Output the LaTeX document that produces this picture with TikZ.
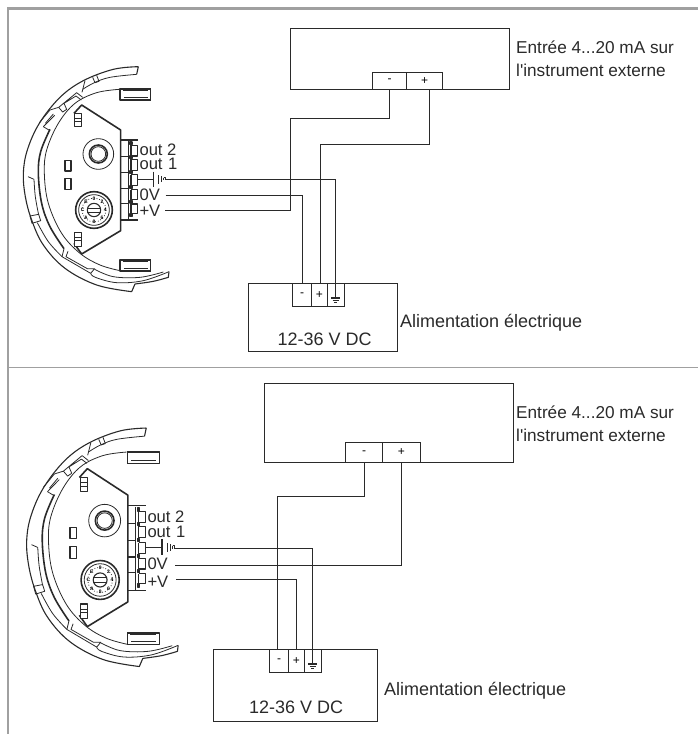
\documentclass[tikz,border=0pt]{standalone}
\usepackage{fontspec}
\setmainfont{Liberation Sans}[Ligatures=TeXOff]
\definecolor{ink}{HTML}{2A2A2A}
\definecolor{framec}{HTML}{A0A0A0}
\tikzset{
  x=1pt,y=-1pt,
  wire/.style={draw=ink,line width=1.2pt},
  box/.style={draw=ink,line width=1.2pt,fill=white,rectangle,inner sep=0pt,outer sep=0pt},
  term/.style={box,font=\fontsize{12}{13}\selectfont},
  lab/.style={font=\fontsize{17.2}{19}\selectfont,text=ink,inner sep=0pt,anchor=base west},
  widelab/.style={lab,font=\fontsize{18}{19}\selectfont},
  pinlab/.style={font=\fontsize{16.6}{18}\selectfont,text=ink,inner sep=0pt,anchor=base west},
  thin line/.style={draw=ink,line width=.8pt,line join=round},
  mid line/.style={draw=ink,line width=1.1pt,line join=round},
  thick line/.style={draw=ink,line width=1.6pt,line join=round},
  sensor/.pic={
    % shell
    \draw[mid line] (410,43) -- (415,20) plot[smooth,tension=.6] coordinates {(415,20) (340,28) (250,62) (180,112) (118,190) (82,270) (70,340) (76,410) (95,480) (130,555) (195,625) (290,675) (395,695)} -- (405,672) plot[smooth,tension=.6] coordinates {(405,672) (460,664) (505,652)} -- (507,635);
    \draw[thin line] plot[smooth,tension=.6] coordinates {(410,43) (330,52) (283,68) (248,88)};
    \draw[thin line] (255,62) -- (246,97);
    \draw[thin line] (278,52) -- (285,68) -- (297,64) -- (290,46);
    \draw[thin line] (248,112) -- (230,98) -- (176,142) -- (188,156) -- (200,148) -- (192,130) -- (228,108) -- (244,120);
    \draw[thin line] (118,188) -- (150,150) -- (176,142);
    \draw[thin line] (130,200) -- (164,166);
    \draw[thin line] (136,190) -- (160,162);
    \draw[thin line] (130,200) -- (150,212);
    \draw[thin line] (84,350) -- (102,358);
    \draw[thin line] plot[smooth,tension=.6] coordinates {(102,358) (106,410) (116,465)};
    \draw[thin line] (90,468) -- (116,463) -- (122,482) -- (96,490) -- cycle;
    \draw[thin line] plot[smooth,tension=.6] coordinates {(112,488) (145,545) (186,590)};
    \draw[thin line] (192,566) -- (186,590) -- (272,640) -- (284,626) -- (262,626) -- (198,590) -- (204,574);
    \draw[thin line] plot[smooth,tension=.6] coordinates {(272,640) (286,652) (350,668) (430,662) (507,635)};
    \draw[thin line] plot[smooth,tension=.6] coordinates {(284,628) (340,650) (420,652) (490,636)};
    % inner arcs
    \draw[thin line] plot[smooth,tension=.6] coordinates {(358,88) (290,98) (225,130) (175,190) (140,270) (133,340) (145,430) (185,520) (240,580) (300,615) (360,632)};
    \draw[thick line] plot[smooth,tension=.6] coordinates {(150,208) (122,275) (115,340) (125,430) (150,500) (192,566)};
    % tabs
    \foreach \yy in {87,600}{
      \draw[mid line,fill=white] (360,\yy) rectangle (452,\yy+33);
      \draw[thick line] (360,\yy) -- (452,\yy) (360,\yy+33) -- (452,\yy+33);
      \draw[thin line] (368,\yy+3) -- (444,\yy+3) (372,\yy+25) -- (444,\yy+25);
    }
    % board
    \draw[thick line] (222,160) -- (245,135) -- (362,210) -- (362,512) -- (245,582) -- (222,550);
    \foreach \yy/\hh in {160/40,518/42}{
      \draw[mid line,fill=white] (224,\yy) rectangle (245,\yy+\hh);
      \draw[thin line] (224,\yy+14) -- (245,\yy+14) (224,\yy+24) -- (245,\yy+24);
    }
    % lens
    \draw[thin line] (295,282) circle (46);
    \draw[thick line] (295,282) circle (27);
    \draw[thin line] (295,282) circle (22);
    \draw[mid line] (195,302) rectangle (213,333);
    \draw[mid line] (195,355) rectangle (213,388);
    % dial
    \draw[thick line] (282,450) circle (55);
    \draw[thin line] (282,450) circle (46);
    \draw[thin line,dotted] (282,450) circle (36);
    \draw[mid line] (282,450) circle (20);
    \draw[thin line] (262,444) -- (302,444) (262,456) -- (302,456);
    \foreach \aa/\tt in {90/0,45/2,0/4,-45/6,-90/8,-135/A,180/C,135/E}{
      \node[inner sep=0pt,font=\fontsize{5}{5}\selectfont\bfseries] (d\tt) at ({282+34*cos(\aa)},{450-34*sin(\aa)}) {\tt};
    }
    % terminal strip
    \draw[mid line] (362,240) -- (415,240);
    \draw[thick line] (362,480) -- (415,480);
    \draw[mid line] (385,243) -- (385,478);
    \draw[mid line] (362,290) -- (385,290) (362,338) -- (385,338) (362,385) -- (385,385) (362,430) -- (385,430);
    \foreach \yy in {250,292,337,382,425,466}{
      \draw[thick line,fill=ink] (390,\yy-4) rectangle (396,\yy+4);
    }
    \foreach \ya/\yb in {256/288,298/331,344/376,389/419,432/460}{
      \draw[mid line] (393,\ya) -- (413,\ya) -- (413,\yb) -- (393,\yb);
      \draw[mid line] (393,\ya) -- (393,\yb);
    }
    % earth symbol
    \draw[thick line] (413,358) -- (460,358);
    \draw[thick line] (460,335) -- (460,380);
    \draw[thick line] (476,345) -- (476,371);
    \draw[mid line] (484,349) -- (484,367);
    \draw[thin line] (491,353) -- (491,361) (491,353) -- (495,353) -- (495,361);
    % labels
    \node[pinlab] (out2) at (418,287) {out 2};
    \node[pinlab] (out1) at (418,329) {out\,\,1};
    \node[pinlab] (zero) at (418,421) {0V};
    \node[pinlab] (plus) at (418,470) {+V};
  }
}
\newcommand{\gnds}[2]{%
  \draw[wire] (#1,#2) -- (#1,#2+14);
  \draw[wire] (#1-4.5,#2+14.5) -- (#1+4.5,#2+14.5);
  \draw[wire,line width=.9pt] (#1-3,#2+16.5) -- (#1+3,#2+16.5);
  \draw[wire,line width=.9pt] (#1-1.3,#2+18.5) -- (#1+1.3,#2+18.5);
}
\begin{document}
\begin{tikzpicture}
\useasboundingbox (0,0) rectangle (698,734);
% frame
\draw[framec,line width=2.4pt] (698,8.5) -- (8,8.5) -- (8,734);
\draw[framec,line width=1.3pt] (8,367.5) -- (698,367.5);

% --- top diagram ---
\pic[xscale=1/3,yscale=1/3,shift={(0,180)}] (sa) at (0,0) {sensor};
\node[box,minimum width=219pt,minimum height=61pt] (insa) at (400,59) {};
\node[term,minimum width=34pt,minimum height=17pt] (ima) at (389.5,81) {-};
\node[term,minimum width=36pt,minimum height=17pt] (ipa) at (424.5,81) {+};
\node[box,minimum width=149pt,minimum height=68pt] (supa) at (323,317.5) {};
\node[term,minimum width=19pt,minimum height=23pt] (sma) at (302,295) {-};
\node[term,minimum width=16pt,minimum height=23pt] (spa) at (319.5,295) {+};
\node[box,minimum width=17pt,minimum height=23pt] (sga) at (336,295) {};
\gnds{335.5}{283.5}
\node[lab] (inla) at (516,53.5) {Entrée 4...20 mA sur};
\node[lab] (inlb) at (516,76.5) {l'instrument externe};
\node[widelab] (vdca) at (277.5,345.5) {12-36 V DC};
\node[widelab] (alima) at (400,327.5) {Alimentation électrique};
\coordinate (epa) at (165.5,179.5);
\coordinate (eza) at (165.5,195.5);
\coordinate (eva) at (165,210.5);
\draw[wire] (ima.south) |- (290.5,118.5) |- (eva);
\draw[wire] (ipa.south -| 429.5,0) |- (320.5,144.5) -- (spa.north -| 320.5,0);
\draw[wire] (epa) -| (sga.north -| 335.5,0);
\draw[wire] (eza) -| (sma.north -| 302.5,0);

% --- bottom diagram ---
\pic[xscale=.34667,yscale=.35333,shift={(6.92,1191.4)}] (sb) at (0,0) {sensor};
\node[box,minimum width=249pt,minimum height=79pt] (insb) at (389,423) {};
\node[term,minimum width=37pt,minimum height=20pt] (imb) at (364,452.5) {-};
\node[term,minimum width=38pt,minimum height=20pt] (ipb) at (401.5,452.5) {+};
\node[box,minimum width=164pt,minimum height=72pt] (supb) at (295.5,685.5) {};
\node[term,minimum width=19pt,minimum height=23pt] (smb) at (279,661) {-};
\node[term,minimum width=16pt,minimum height=23pt] (spb) at (296.5,661) {+};
\node[box,minimum width=17pt,minimum height=23pt] (sgb) at (313,661) {};
\gnds{312.5}{649.5}
\node[lab] (inlc) at (516,418.5) {Entrée 4...20 mA sur};
\node[lab] (inld) at (516,441) {l'instrument externe};
\node[widelab] (vdcb) at (249,713.5) {12-36 V DC};
\node[widelab] (alimb) at (384,695.5) {Alimentation électrique};
\coordinate (epb) at (174.5,548.5);
\coordinate (ezb) at (175,565.5);
\coordinate (evb) at (176,579.5);
\draw[wire] (imb.south -| 364.5,0) |- (277.5,496.5) -- (smb.north -| 277.5,0);
\draw[wire] (ipb.south) |- (ezb);
\draw[wire] (epb) -| (sgb.north -| 312.5,0);
\draw[wire] (evb) -| (spb.north);
\end{tikzpicture}
\end{document}
